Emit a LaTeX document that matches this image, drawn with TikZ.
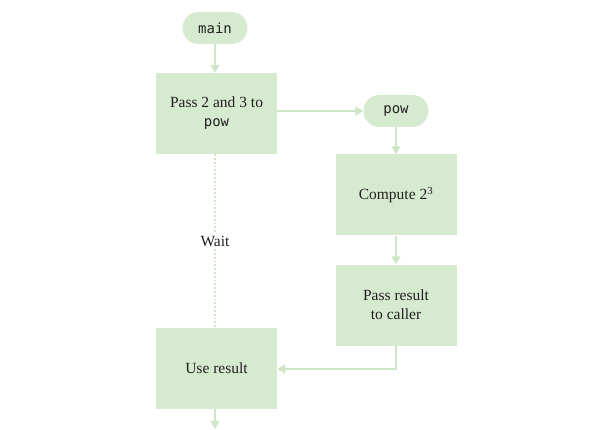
\documentclass[tikz,border=0pt]{standalone}
\usepackage{fontspec}
\setmainfont{Liberation Serif}
\setmonofont{DejaVu Sans Mono}
\usetikzlibrary{arrows.meta,shapes.misc}
\definecolor{boxfill}{HTML}{D6EAD0}
\definecolor{linec}{HTML}{CFE6C6}
\definecolor{txt}{HTML}{231F20}
\tikzset{
  pill/.style={rounded rectangle, fill=boxfill, minimum width=65pt, minimum height=32pt, text=txt, font=\ttfamily\fontsize{14}{16}\selectfont, inner sep=0pt},
  stepbox/.style={rectangle, fill=boxfill, minimum width=121pt, minimum height=81pt, text=txt, font=\fontsize{15.5}{19}\selectfont, align=center, inner sep=0pt},
  conn/.style={draw=linec, line width=1.8pt, -{Triangle[length=8pt,width=9pt]}},
}
\begin{document}
\begin{tikzpicture}[x=1pt,y=-1pt]
\useasboundingbox (0,0) rectangle (599,430);
\node[pill] (main) at (215,28) {main};
\node[stepbox] (pass) at (216.5,113.5) {Pass 2 and 3 to\\{\ttfamily\fontsize{14}{16}\selectfont pow}};
\node[pill] (pow) at (396,111) {pow};
\node[stepbox] (comp) at (396,195) {Compute 2\textsuperscript{3}};
\node[stepbox] (ret) at (396,305) {Pass result\\to caller};
\node[stepbox] (use) at (216.5,368.5) {Use result};
\coordinate (endp) at (215,429);
\coordinate (bend) at (396,369);
\draw[conn] (main.south -| 215,0) -- (pass.north -| 215,0);
\draw[conn] (pass.east |- pow.west) -- (pow.west);
\draw[conn] (pow.south) -- (comp.north);
\draw[conn] (comp.south) -- (ret.north);
\draw[conn] (ret.south) -- (bend) -- (use.east |- bend);
\draw[linec, line width=1.8pt, dotted] (pass.south -| 215,0) -- (use.north -| 215,0)
  node[pos=0.5, fill=white, text=txt, font=\fontsize{15.5}{19}\selectfont, inner sep=2pt] (wait) {Wait};
\draw[conn] (use.south -| 215,0) -- (endp);
\end{tikzpicture}
\end{document}
